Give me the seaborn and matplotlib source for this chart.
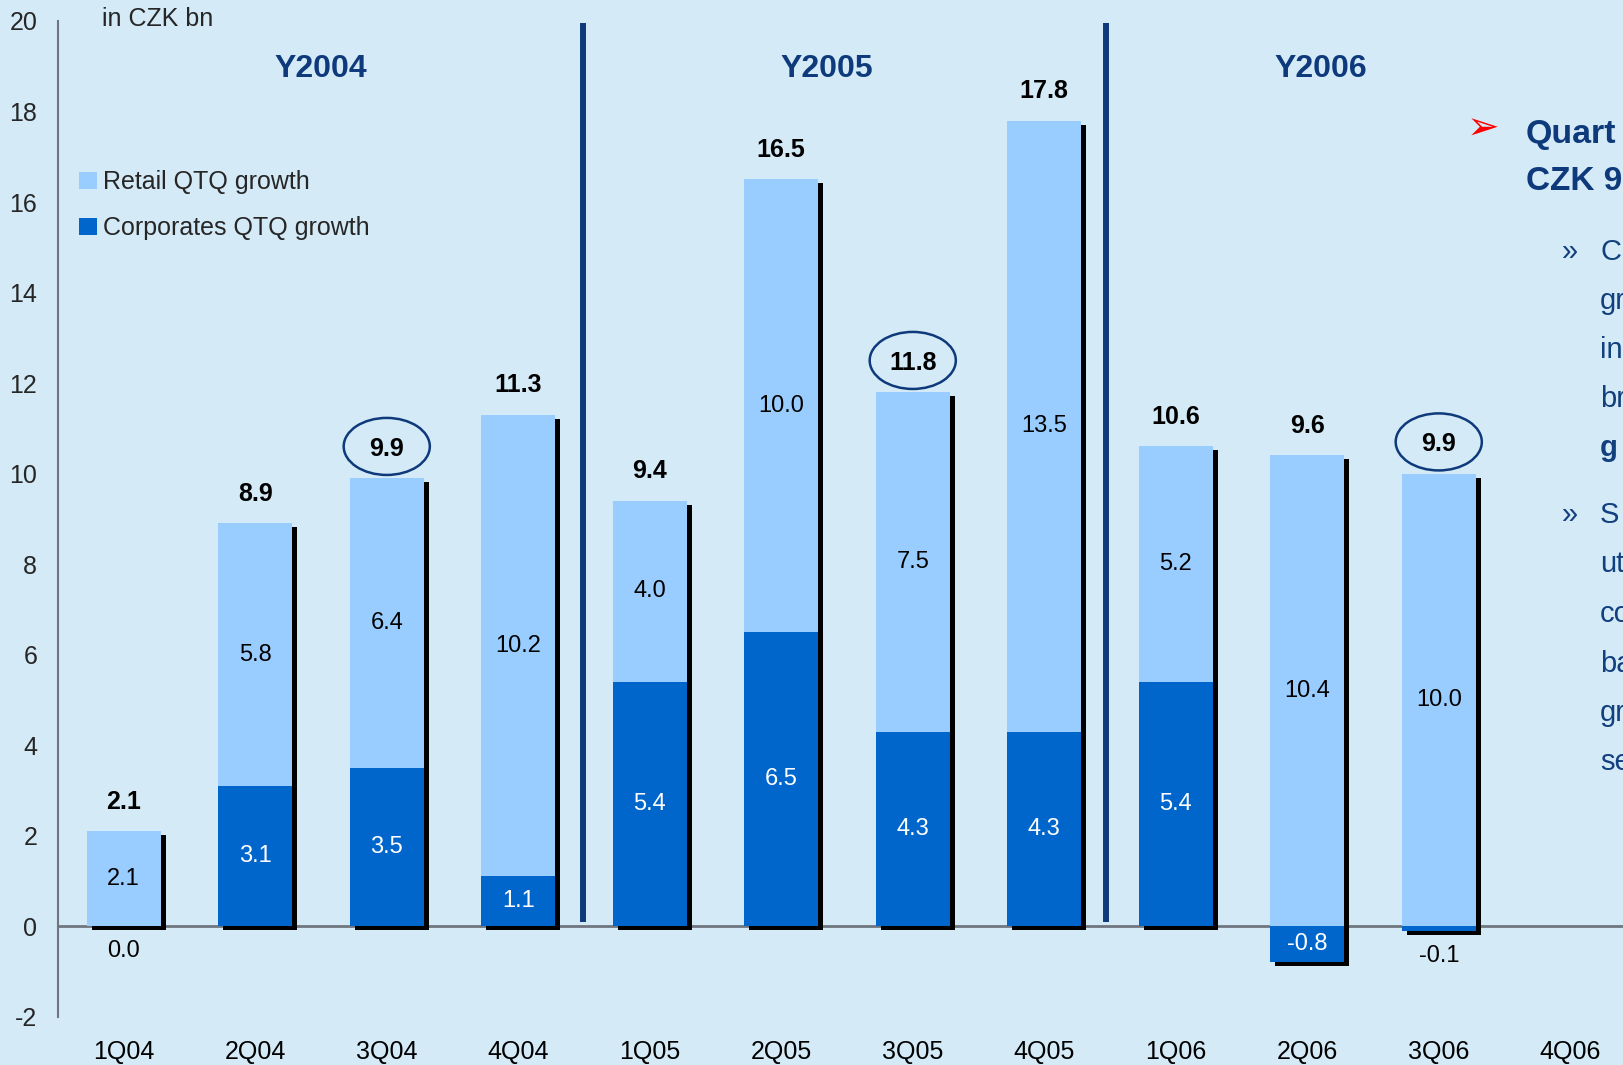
import numpy as np
import pandas as pd
import matplotlib
matplotlib.use("Agg")
import matplotlib.pyplot as plt
import matplotlib.transforms as mtransforms
from matplotlib.patches import Ellipse, Patch
import seaborn as sns

# ---- data (CZK bn, quarter-on-quarter loan growth) ----
quarters = ["1Q04", "2Q04", "3Q04", "4Q04", "1Q05", "2Q05", "3Q05", "4Q05",
            "1Q06", "2Q06", "3Q06", "4Q06"]
corporates = [0.0, 3.1, 3.5, 1.1, 5.4, 6.5, 4.3, 4.3, 5.4, -0.8, -0.1]
retail = [2.1, 5.8, 6.4, 10.2, 4.0, 10.0, 7.5, 13.5, 5.2, 10.4, 10.0]
totals = [2.1, 8.9, 9.9, 11.3, 9.4, 16.5, 11.8, 17.8, 10.6, 9.6, 9.9]
highlighted = ["3Q04", "3Q05", "3Q06"]
year_labels = ["Y2004", "Y2005", "Y2006"]
y_ticks = list(range(-2, 21, 2))

# ---- layout helpers ----
year_label_x = [1.5, 5.35, 9.1]
separator_x = [3.49, 7.47]

# ---- styling ----
BG = "#D4EAF6"
LIGHT = "#99CCFF"
DARK = "#0066CC"
NAVY = "#0E3A7C"
BODY = "#12407F"
AXIS = "#6F7680"

sns.set_style("white", {"axes.facecolor": BG, "figure.facecolor": BG})
plt.rcParams["font.family"] = ["Liberation Sans", "DejaVu Sans"]

W, H = 1623, 1065
fig = plt.figure(figsize=(W / 100, H / 100), dpi=100)
fig.patch.set_facecolor(BG)
ax = fig.add_axes([58 / W, (H - 1016.7) / H, 1578 / W, 995.7 / H])
ax.set_facecolor(BG)

n = len(corporates)
df = pd.DataFrame({
    "quarter": quarters[:n],
    "corporates": corporates,
    "retail": retail,
    "total": totals,
})
df["upper"] = df["corporates"].clip(lower=0) + df["retail"]
df["lower"] = df["corporates"].clip(upper=0)

bar_w = 0.56
common = dict(data=df, x="quarter", order=quarters, width=bar_w,
              saturation=1, errorbar=None, linewidth=0, ax=ax)

# drop shadows: black bars nudged right and down
shadow_offset = mtransforms.ScaledTranslation(5 / 100, -4 / 100, fig.dpi_scale_trans)
k0 = len(ax.patches)
sns.barplot(y="upper", color="black", **common)
sns.barplot(y="lower", color="black", **common)
for p in ax.patches[k0:]:
    p.set_transform(ax.transData + shadow_offset)

# retail on top of positive corporates, corporates from zero
sns.barplot(y="upper", color=LIGHT, **common)
sns.barplot(y="corporates", color=DARK, **common)

ax.set_xlim(-0.5, len(quarters) - 0.5)
ax.set_ylim(-2, 20)

# axes: y on left, x spine through zero
for s in ["top", "right"]:
    ax.spines[s].set_visible(False)
ax.spines["left"].set_color(AXIS)
ax.spines["left"].set_linewidth(1.5)
ax.spines["bottom"].set_position(("data", 0))
ax.spines["bottom"].set_color(AXIS)
ax.spines["bottom"].set_linewidth(2)
ax.spines["bottom"].set_zorder(0.5)
ax.set_yticks(y_ticks)
ax.set_yticklabels([str(t) for t in y_ticks], fontsize=18)
ax.tick_params(axis="y", direction="out", length=6, width=1.2, color=AXIS, pad=9)
ax.set_xticks(np.arange(len(quarters)) + 0.5)
ax.set_xticklabels([])
ax.tick_params(axis="x", direction="out", length=6, width=1.2, color=AXIS)
ax.set_xlabel("")
ax.set_ylabel("")

# category labels along the bottom
lab_tr = mtransforms.blended_transform_factory(ax.transData, ax.transAxes)
for i, q in enumerate(quarters):
    ax.text(i, -0.0355, q, transform=lab_tr, ha="center", va="center",
            fontsize=18, color="black", clip_on=False)

# segment and total labels
for i, row in df.iterrows():
    c, r, up = row["corporates"], row["retail"], row["upper"]
    base = max(c, 0)
    ax.text(i, base + r / 2, f"{r:.1f}", ha="center", va="center",
            fontsize=17, color="black")
    if abs(c) < 0.5:
        ax.text(i, c - 0.55, f"{c:.1f}", ha="center", va="center",
                fontsize=17, color="black")
    else:
        ax.text(i, c / 2, f"{c:.1f}", ha="center", va="center",
                fontsize=17, color="white")
    ty = up + 0.65
    ax.text(i, ty, f"{row['total']:.1f}", ha="center", va="center",
            fontsize=18, fontweight="bold", color="black")
    if row["quarter"] in highlighted:
        ax.add_patch(Ellipse((i, ty + 0.05), 0.655, 1.26, fill=False,
                             edgecolor=NAVY, linewidth=1.8, zorder=5))

# year separators and headings
ax.vlines(separator_x, 0.1, 19.95, colors=NAVY, linewidth=4.3, zorder=4)
for xpos, yl in zip(year_label_x, year_labels):
    ax.text(xpos, 18.95, yl, ha="center", va="center", fontsize=23,
            fontweight="bold", color=NAVY)

# unit note
fig.text(102 / W, 1 - 19 / H, "in CZK bn", ha="left", va="center", fontsize=18)

# legend
handles = [Patch(facecolor=LIGHT, edgecolor="none", label="Retail QTQ growth"),
           Patch(facecolor=DARK, edgecolor="none", label="Corporates QTQ growth")]
fig.legend(handles=handles, loc="upper left", bbox_to_anchor=(79 / W, 1 - 170 / H),
           frameon=False, fontsize=18, handlelength=0.7, handleheight=0.7,
           handletextpad=0.25, labelspacing=0.88, borderpad=0, borderaxespad=0)

# commentary column at the right edge of the slide
def px(x, y):
    return x / W, 1 - y / H

fig.text(*px(1467, 130), "➢", color="red", fontsize=28, ha="left", va="center")
fig.text(*px(1526, 143), "Quart", color=NAVY, fontsize=24.5,
         fontweight="bold", ha="left", va="baseline")
fig.text(*px(1526, 190), "CZK 9", color=NAVY, fontsize=24,
         fontweight="bold", ha="left", va="baseline")

group1 = ["C", "gr", "in", "br", "g"]
group2 = ["S", "ut", "co", "ba", "gr", "se"]
for k, line in enumerate(group1):
    y = 260 + 49 * k
    fig.text(*px(1600, y), line, color=BODY, fontsize=21, ha="left", va="baseline",
             fontweight="bold" if k == len(group1) - 1 else "normal")
fig.text(*px(1562, 260), "»", color=BODY, fontsize=21, ha="left", va="baseline")
for k, line in enumerate(group2):
    y = 523 + 49.5 * k
    fig.text(*px(1600, y), line, color=BODY, fontsize=21, ha="left", va="baseline")
fig.text(*px(1562, 523), "»", color=BODY, fontsize=21, ha="left", va="baseline")

fig.savefig("out.png", dpi=100, facecolor=BG)
